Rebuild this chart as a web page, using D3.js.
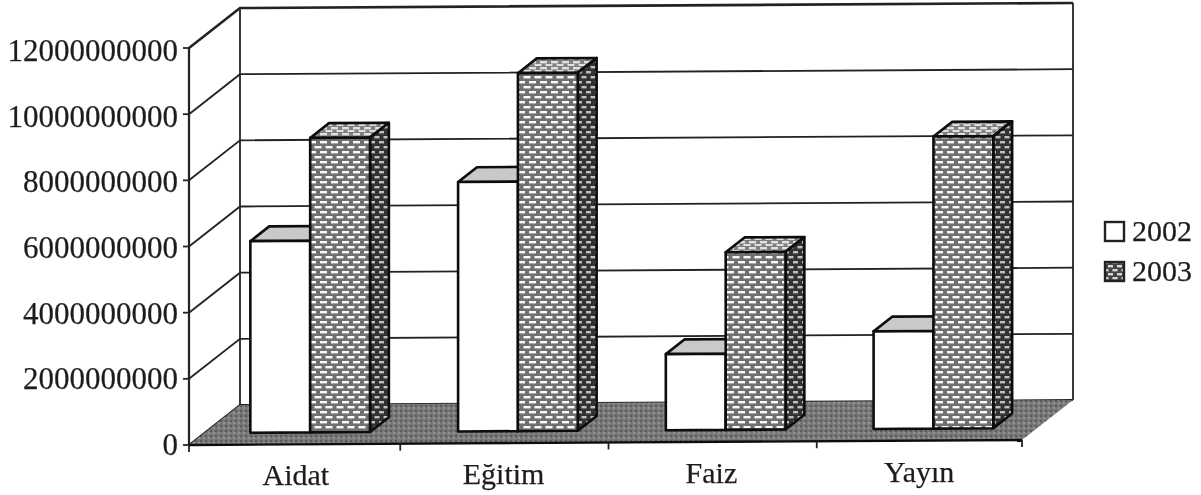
<!DOCTYPE html>
<html>
<head>
<meta charset="utf-8">
<script src="https://cdn.jsdelivr.net/npm/d3@7"></script>
<style>
  html, body { margin: 0; padding: 0; background: #fff; }
  svg { display: block; }
  text { font-family: "Liberation Serif", serif; font-size: 30px; fill: #1f1f1f; stroke: #1f1f1f; stroke-width: 0.25px; }
  .ylab { font-size: 31px; }
</style>
</head>
<body>
<svg id="chart" width="1201" height="495"></svg>
<script>
var categories = ["Aidat", "Eğitim", "Faiz", "Yayın"];
var seriesNames = ["2002", "2003"];
var values2002 = [5790000000, 7540000000, 2300000000, 2950000000];
var values2003 = [8900000000, 10820000000, 5370000000, 8830000000];
var yTicks = [0, 2000000000, 4000000000, 6000000000, 8000000000, 10000000000, 12000000000];

var svg = d3.select("#chart");
var defs = svg.append("defs");

// scan softness
defs.append("filter").attr("id", "soft")
  .attr("filterUnits", "userSpaceOnUse").attr("x", 0).attr("y", 0).attr("width", 1201).attr("height", 495)
  .append("feGaussianBlur").attr("stdDeviation", 0.75);

function brick(id, bg, mortar, w, h) {
  var p = defs.append("pattern").attr("id", id)
    .attr("patternUnits", "userSpaceOnUse").attr("width", w).attr("height", h);
  p.append("rect").attr("width", w).attr("height", h).attr("fill", bg);
  p.append("rect").attr("x", 1).attr("y", 1).attr("width", w - 4).attr("height", 2.4).attr("fill", mortar);
  p.append("rect").attr("x", -w / 2 + 1).attr("y", h / 2 + 1).attr("width", w - 4).attr("height", 2.4).attr("fill", mortar);
  p.append("rect").attr("x", w / 2 + 1).attr("y", h / 2 + 1).attr("width", w - 4).attr("height", 2.4).attr("fill", mortar);
}
brick("brickFront", "#707070", "#fafafa", 11, 10);
brick("brickTop", "#808080", "#e0e0e0", 11, 6);
brick("brickSide", "#303030", "#c0c0c0", 9, 10);
brick("brickLegend", "#444", "#d8d8d8", 9, 8);

var floorPat = defs.append("pattern").attr("id", "floorDots")
  .attr("patternUnits", "userSpaceOnUse").attr("width", 5).attr("height", 5);
floorPat.append("rect").attr("width", 5).attr("height", 5).attr("fill", "#787878");
floorPat.append("rect").attr("width", 2).attr("height", 2).attr("fill", "#5a5a5a");
floorPat.append("rect").attr("x", 3).attr("y", 2).attr("width", 2).attr("height", 2).attr("fill", "#929292");

var origin = {x: 189, y: 445};
var plotW = 833;
var depthX = 51, depthY = 40, slope = 5 / 833;

var x0 = d3.scaleBand().domain(categories).range([2, plotW]).paddingInner(0.424).paddingOuter(0.212);
var x1 = d3.scaleBand().domain(seriesNames).range([0, x0.bandwidth()]);
var y = d3.scaleLinear().domain([0, 12000000000]).range([0, 397]);

// project chart space (px along x, value, depth 0..1) to the page
function pt(px, v, z) {
  return [origin.x + px + z * depthX, origin.y - px * slope - y(v) - z * depthY];
}
var line = d3.line();
function poly(g, pts, fill, stroke, sw) {
  return g.append("path").attr("d", line(pts) + "Z").attr("fill", fill)
    .attr("stroke", stroke).attr("stroke-width", sw).attr("stroke-linejoin", "round");
}

var g = svg.append("g").attr("filter", "url(#soft)");
var axisColor = "#222";

// walls and gridlines
yTicks.forEach(function(t) {
  var a = pt(0, t, 0), b = pt(0, t, 1), c = pt(plotW, t, 1);
  g.append("path").attr("d", line([a, b, c])).attr("fill", "none").attr("stroke", axisColor)
    .attr("stroke-width", t === 12000000000 ? 2.6 : 1.8);
});
g.append("path").attr("d", line([pt(0, 0, 1), pt(0, 12000000000, 1)])).attr("fill", "none").attr("stroke", axisColor).attr("stroke-width", 1.8);
g.append("path").attr("d", line([pt(plotW, 0, 1), pt(plotW, 12000000000, 1)])).attr("fill", "none").attr("stroke", axisColor).attr("stroke-width", 1.8);

// floor
poly(g, [pt(0, 0, 0), pt(0, 0, 1), pt(plotW, 0, 1), pt(plotW, 0, 0)], "url(#floorDots)", "none", 0);

// front axes
g.append("path").attr("d", line([pt(0, 0, 0), pt(0, 12000000000, 0)])).attr("fill", "none").attr("stroke", axisColor).attr("stroke-width", 2.2);
g.append("path").attr("d", line([pt(0, 0, 0), pt(plotW, 0, 0)])).attr("fill", "none").attr("stroke", "#111").attr("stroke-width", 2.4);

yTicks.forEach(function(t) {
  var a = pt(0, t, 0);
  g.append("path").attr("d", line([[a[0] - 6, a[1]], a])).attr("stroke", axisColor).attr("stroke-width", 1.8);
  // the scanned labels drift slightly below their ticks towards the top
  g.append("text").attr("class", "ylab").attr("x", a[0] - 11).attr("y", a[1] + 10 + 3 * t / 12000000000)
    .attr("text-anchor", "end").text(t);
});

// category ticks and labels
var tickShift = 3;
d3.range(categories.length + 1).forEach(function(i) {
  var inner = i > 0 && i < categories.length;
  var a = pt(i * plotW / categories.length + (inner ? tickShift : 0), 0, 0);
  g.append("path").attr("d", line([a, [a[0], a[1] + 7]])).attr("stroke", axisColor).attr("stroke-width", 1.8);
});
categories.forEach(function(c, i) {
  var a = pt((i + 0.5) * x0.step() + tickShift, 0, 0);
  g.append("text").attr("x", a[0]).attr("y", a[1] + 41).attr("text-anchor", "middle").text(c);
});

// bars
var zFront = 0.3, zBack = 0.67;
var seriesValues = [values2002, values2003];
var fronts = ["#fff", "url(#brickFront)"];
var tops = ["#c9c9c9", "url(#brickTop)"];
var sides = ["#fff", "url(#brickSide)"];

categories.forEach(function(c, i) {
  seriesNames.forEach(function(s, j) {
    var v = seriesValues[j][i];
    var l = x0(c) + x1(s), r = l + x1.bandwidth();
    var bar = g.append("g");
    poly(bar, [pt(l, v, zFront), pt(l, v, zBack), pt(r, v, zBack), pt(r, v, zFront)], tops[j], "#0c0c0c", 2.6);
    poly(bar, [pt(r, 0, zFront), pt(r, v, zFront), pt(r, v, zBack), pt(r, 0, zBack)], sides[j], "#0c0c0c", 2.6);
    poly(bar, [pt(l, 0, zFront), pt(l, v, zFront), pt(r, v, zFront), pt(r, 0, zFront)], fronts[j], "#0c0c0c", 2.6);
  });
});

// legend
var legendY = d3.scalePoint().domain(seriesNames).range([231, 271]);
seriesNames.forEach(function(s, j) {
  var ly = legendY(s);
  g.append("rect").attr("x", 1105).attr("y", ly - 9).attr("width", 19).attr("height", 19)
    .attr("fill", j ? "url(#brickLegend)" : "#fff").attr("stroke", "#222").attr("stroke-width", 2.4);
  g.append("text").attr("x", 1132).attr("y", ly + 10).text(s);
});
</script>
</body>
</html>
